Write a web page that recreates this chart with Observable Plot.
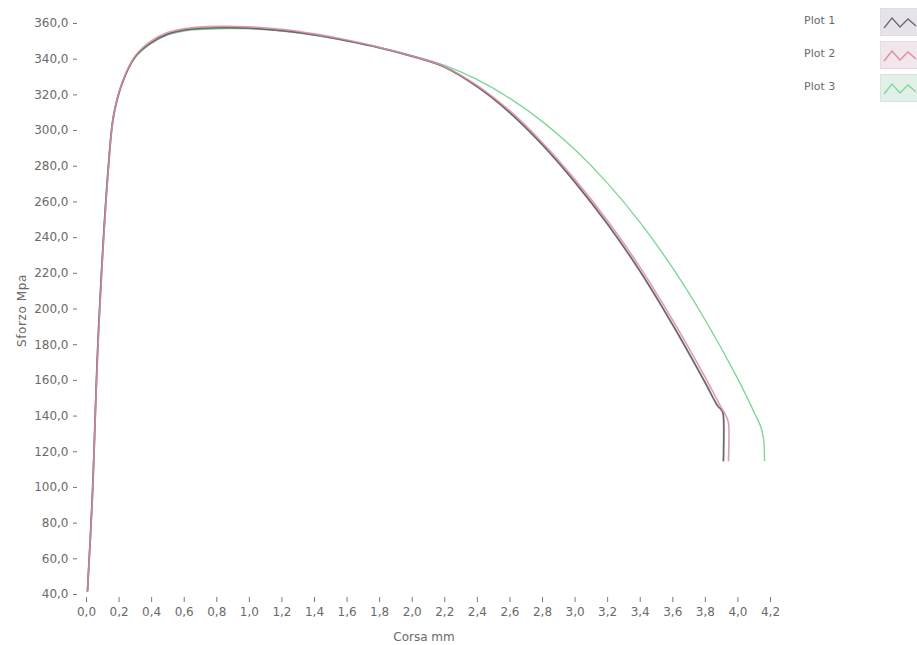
<!DOCTYPE html>
<html>
<head>
<meta charset="utf-8">
<script src="https://cdn.jsdelivr.net/npm/d3@7"></script>
<script src="https://cdn.jsdelivr.net/npm/@observablehq/plot@0.6"></script>
<style>
  html, body { margin: 0; padding: 0; background: #fff; }
  #wrap { position: relative; width: 917px; height: 645px; overflow: hidden; }
  #legend { position: absolute; left: 804px; top: 8px; font-family: "DejaVu Sans", sans-serif; font-size: 11px; color: #6a6a6a; }
  .row { position: relative; height: 33px; width: 120px; }
  .row span { position: absolute; left: 0; top: 6px; }
  .row svg { position: absolute; left: 76px; top: 0; }
  g[aria-label="y-axis label"] text { font-size: 12px; letter-spacing: 0.6px; }
  g[aria-label="x-axis label"] text { font-size: 12px; }
</style>
</head>
<body>
<div id="wrap"><div id="legend"></div></div>
<script>
// ---- data ----
const seriesNames = ["Plot 1", "Plot 2", "Plot 3"];
const seriesColors = ["#6c686f", "#dc8c9c", "#7fd79a"];
const legendBg = ["#e6e4ea", "#f0e6ec", "#e2f0e7"];

const plot1X = [0.006, 0.035, 0.074, 0.135, 0.166, 0.221, 0.30, 0.393, 0.497, 0.64, 0.80, 1.00, 1.20, 1.40, 1.60, 1.80, 2.00, 2.20, 2.40, 2.60, 2.80, 3.00, 3.20, 3.40, 3.60, 3.80, 3.87, 3.905, 3.911, 3.911];
const plot1Y = [42, 93, 188, 280, 308, 327, 341.5, 349, 354, 356.8, 357.6, 357.4, 356, 353.6, 350.3, 346.4, 341.6, 335.5, 324.5, 310, 292, 271, 247.5, 221, 191, 158.5, 146.5, 142.5, 140, 115];

const plot2X = [0.006, 0.035, 0.074, 0.135, 0.166, 0.221, 0.30, 0.393, 0.497, 0.64, 0.80, 1.00, 1.20, 1.40, 1.60, 1.80, 2.00, 2.20, 2.40, 2.60, 2.80, 3.00, 3.20, 3.40, 3.60, 3.80, 3.89, 3.93, 3.942, 3.942];
const plot2Y = [42, 92, 186, 279, 308, 327.5, 342, 350, 355, 357.6, 358.4, 358.2, 356.8, 354.2, 350.8, 346.6, 341.8, 335.8, 325.2, 311, 293.2, 272.5, 249.3, 223.2, 193.6, 161.5, 146, 139.5, 136, 115];

const plot3X = [0.006, 0.035, 0.074, 0.135, 0.166, 0.221, 0.30, 0.393, 0.497, 0.64, 0.80, 1.00, 1.20, 1.40, 1.60, 1.80, 2.00, 2.20, 2.40, 2.60, 2.80, 3.00, 3.20, 3.40, 3.60, 3.80, 4.00, 4.10, 4.14, 4.158, 4.163];
const plot3Y = [42, 94, 190, 282, 309, 327, 341, 348.5, 353.5, 356.3, 357, 357, 355.8, 353.4, 350.3, 346.6, 342, 336.5, 328.5, 318, 305, 289.2, 270.4, 248.4, 222.9, 193.7, 160.7, 142, 134, 127, 115];

const xTicks = [0, 0.2, 0.4, 0.6, 0.8, 1.0, 1.2, 1.4, 1.6, 1.8, 2.0, 2.2, 2.4, 2.6, 2.8, 3.0, 3.2, 3.4, 3.6, 3.8, 4.0, 4.2];
const yTicks = [40, 60, 80, 100, 120, 140, 160, 180, 200, 220, 240, 260, 280, 300, 320, 340, 360];

// ---- build table ----
const allX = [plot1X, plot2X, plot3X];
const allY = [plot1Y, plot2Y, plot3Y];
const rows = [];
seriesNames.forEach((name, i) => {
  allX[i].forEach((x, j) => rows.push({series: name, x, y: allY[i][j]}));
});
const fmt = d => d.toFixed(1).replace(".", ",");

const chart = Plot.plot({
  width: 917,
  height: 645,
  marginLeft: 77,
  marginRight: 147,
  marginTop: 23,
  marginBottom: 48,
  style: {fontFamily: "DejaVu Sans, sans-serif", fontSize: "12px", color: "#6a6a6a", background: "#fff"},
  x: {domain: [0, 4.2], insetLeft: 9},
  y: {domain: [40, 360], insetBottom: 3},
  color: {domain: seriesNames, range: seriesColors},
  marks: [
    Plot.axisY({ticks: yTicks, tickFormat: fmt, tickSize: 4, tickPadding: 5, label: "Sforzo Mpa", labelAnchor: "center", labelArrow: "none", labelOffset: 60, stroke: "#777"}),
    Plot.axisX({ticks: xTicks, tickFormat: fmt, tickSize: 5, tickPadding: 5, label: "Corsa mm", labelAnchor: "center", labelArrow: "none", labelOffset: 43, stroke: "#777"}),
    Plot.line(rows.filter(d => d.series === "Plot 3"), {x: "x", y: "y", stroke: "series", strokeWidth: 1.4, curve: "catmull-rom"}),
    Plot.line(rows.filter(d => d.series === "Plot 1"), {x: "x", y: "y", stroke: "series", strokeWidth: 1.8, curve: "catmull-rom"}),
    Plot.line(rows.filter(d => d.series === "Plot 2"), {x: "x", y: "y", stroke: "series", strokeWidth: 1.6, strokeOpacity: 0.85, curve: "catmull-rom"})
  ]
});
document.getElementById("wrap").prepend(chart);

// ---- legend ----
const legend = d3.select("#legend");
seriesNames.forEach((name, i) => {
  const row = legend.append("div").attr("class", "row");
  row.append("span").text(name);
  const s = row.append("svg").attr("width", 40).attr("height", 28);
  s.append("rect").attr("x", 0).attr("y", 0).attr("width", 40).attr("height", 28).attr("fill", legendBg[i]).attr("stroke", "#d8d6da");
  s.append("path").attr("d", "M4,20 L12,10 L20,19 L28,11 L36,18").attr("fill", "none").attr("stroke", seriesColors[i]).attr("stroke-width", 1.3);
});
</script>
</body>
</html>
